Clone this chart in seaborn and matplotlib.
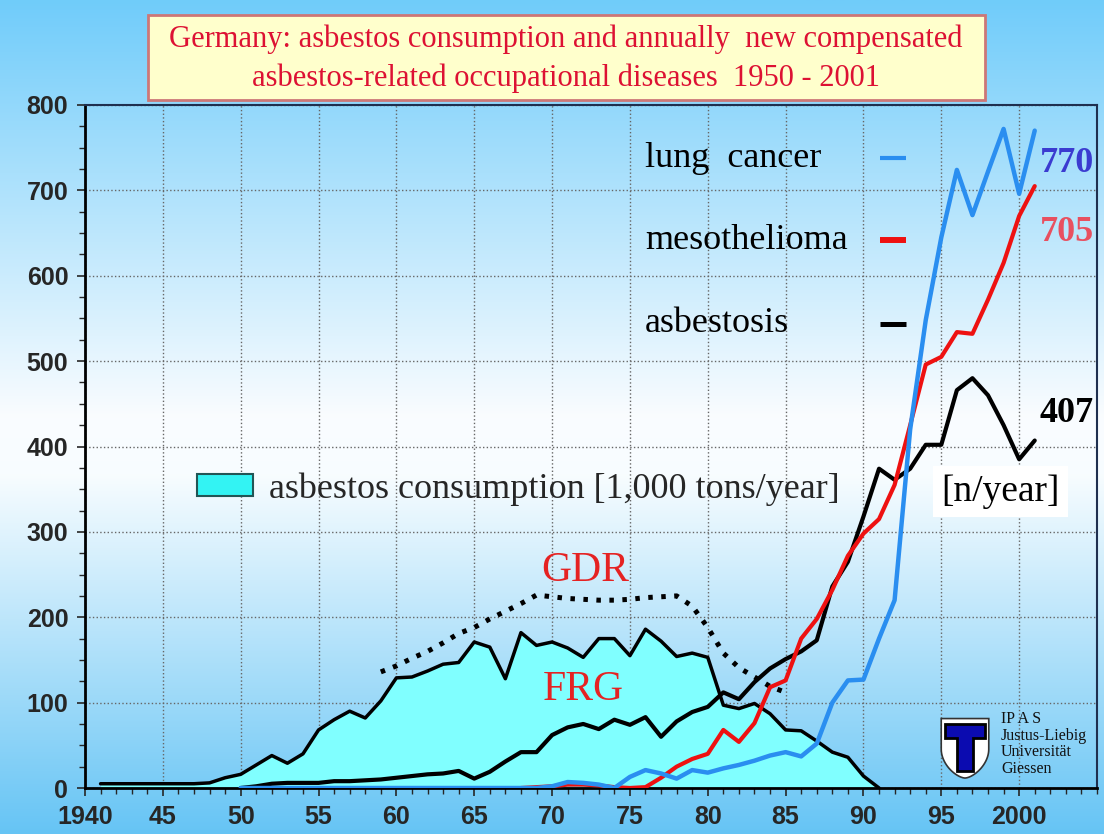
import numpy as np
import matplotlib
matplotlib.use("Agg")
import matplotlib.pyplot as plt
from matplotlib.patches import Rectangle, Polygon, Patch
import seaborn as sns

# values
frg_years = list(range(1941, 1992))
frg_consumption = [5, 5, 5, 5, 5, 5, 5, 6, 12,
                   16, 27, 38, 29, 40, 68, 80, 90, 82, 102,
                   129, 130, 137, 145, 147, 171, 165, 128, 182, 167,
                   171, 164, 153, 175, 175, 155, 186, 172, 154, 158,
                   153, 97, 93, 99, 87, 68, 67, 55, 42, 36,
                   14, 0]

gdr_years = list(range(1959, 1986))
gdr_consumption = [136, 143, 152, 160, 170, 181, 188, 198, 207, 216, 226,
                   224, 222, 221, 220, 220, 221, 223, 224, 225, 213,
                   188, 158, 141, 130, 119, 112]

disease_years = list(range(1950, 2002))
asbestosis = [0, 2, 5, 6, 6, 6, 8, 8, 9, 10,
              12, 14, 16, 17, 20, 11, 19, 31, 42, 42,
              62, 71, 75, 69, 80, 74, 83, 60, 78, 89,
              95, 112, 104, 124, 140, 151, 160, 173, 236, 265,
              318, 374, 361, 374, 402, 402, 466, 480, 460, 425,
              385, 407]
lung_cancer = [0] * 20 + [2, 7, 6, 4, 0, 13, 21, 17, 11, 21,
                          18, 23, 27, 32, 38, 42, 37, 52, 100, 126,
                          127, 175, 220, 420, 548, 645, 724, 671, 722, 772,
                          696, 770]

meso_years = list(range(1968, 2002))
mesothelioma = [0, 1, 2, 4, 4, 3, 1, 0, 1, 12,
                25, 34, 40, 68, 54, 76, 118, 126, 175, 198,
                232, 272, 298, 315, 355, 425, 496, 505, 534, 532,
                572, 615, 670, 705]

x_ticks = list(range(1940, 2001, 5))
x_labels = ["1940", "45", "50", "55", "60", "65", "70", "75", "80", "85", "90", "95", "2000"]
y_ticks = list(range(0, 801, 100))

W, H = 1104, 834
SERIF = ["Liberation Serif", "DejaVu Serif"]


def background(fig):
    """vertical blue - white - blue gradient behind everything"""
    bg = fig.add_axes([0, 0, 1, 1], zorder=-10)
    pos = [0.0, 0.50, 0.57, 1.0]
    cols = np.array([[0.44, 0.80, 0.98],
                     [0.98, 0.99, 1.00],
                     [0.97, 0.99, 1.00],
                     [0.40, 0.77, 0.96]])
    t = np.linspace(0, 1, 400)
    grad = np.stack([np.interp(t, pos, cols[:, i]) for i in range(3)], axis=-1)
    bg.imshow(grad[:, None, :], aspect="auto", extent=[0, 1, 0, 1])
    bg.axis("off")


def logo(fig):
    """small IPAS shield in the lower right corner"""
    lax = fig.add_axes([938 / W, 1 - 780 / H, 54 / W, 64 / H])
    lax.set_xlim(0, 1)
    lax.set_ylim(0, 1)
    lax.axis("off")
    a = np.linspace(0, np.pi / 2, 20)
    right = np.column_stack([0.5 + 0.44 * np.sin(a), 0.03 + 0.45 * (1 - np.cos(a)) ** 0.8])
    left = np.column_stack([0.5 - 0.44 * np.sin(a[::-1]), 0.03 + 0.45 * (1 - np.cos(a[::-1])) ** 0.8])
    shield = np.vstack([[[0.06, 0.96], [0.94, 0.96]], right[::-1], left[::-1]])
    lax.add_patch(Polygon(shield, closed=True, facecolor="white", edgecolor="#333333", lw=1.2))
    t_shape = [(0.13, 0.88), (0.87, 0.88), (0.87, 0.66), (0.64, 0.66), (0.64, 0.14),
               (0.36, 0.14), (0.36, 0.66), (0.13, 0.66)]
    lax.add_patch(Polygon(t_shape, closed=True, facecolor="#0b0bb0", edgecolor="black", lw=2))
    fig.text(1001 / W, 1 - 711 / H, "IP A S\nJustus-Liebig\nUniversität\nGiessen",
             ha="left", va="top", fontsize=11.5, family=SERIF, linespacing=1.05, color="#111111")


def main():
    sns.set_style("ticks")
    plt.rcParams["font.family"] = ["Liberation Sans", "DejaVu Sans"]

    fig = plt.figure(figsize=(W / 100, H / 100), dpi=100)
    background(fig)

    ax = fig.add_axes([85 / W, 46 / H, 1012 / W, 683 / H])
    ax.set_facecolor("none")

    # consumption area (FRG) and GDR dotted line
    ax.fill_between(frg_years, frg_consumption, color="#80ffff", lw=0, zorder=2)
    sns.lineplot(x=frg_years, y=frg_consumption, ax=ax, color="black", lw=2.5, zorder=3)
    sns.lineplot(x=gdr_years, y=gdr_consumption, ax=ax, color="black", lw=3.6,
                 linestyle=(0, (0.9, 1.7)), zorder=3)

    # diseases
    sns.lineplot(x=disease_years, y=asbestosis, ax=ax, color="black", lw=3.0, zorder=4)
    sns.lineplot(x=meso_years, y=mesothelioma, ax=ax, color="#ee1111", lw=3.0, zorder=5)
    sns.lineplot(x=disease_years, y=lung_cancer, ax=ax, color="#2a8ef0", lw=3.2, zorder=6)

    ax.set_xlim(1940, 2005)
    ax.set_ylim(0, 800)
    ax.set_xlabel("")
    ax.set_ylabel("")
    ax.set_xticks(x_ticks, x_labels)
    ax.set_xticks(range(1940, 2006), minor=True)
    ax.set_yticks(y_ticks, [str(v) for v in y_ticks])
    ax.set_yticks(range(0, 801, 25), minor=True)
    ax.tick_params(which="major", direction="out", length=6, width=1.2, labelsize=18, pad=6)
    ax.tick_params(which="minor", direction="out", length=4, width=1.0)
    for lbl in ax.get_xticklabels() + ax.get_yticklabels():
        lbl.set_fontweight("bold")
    ax.grid(True, which="major", ls=":", color="#666666", lw=1.0)
    ax.set_axisbelow(True)
    for side in ["left", "bottom"]:
        ax.spines[side].set_color("black")
        ax.spines[side].set_linewidth(2)
    for side in ["top", "right"]:
        ax.spines[side].set_color("#1f2f4f")
        ax.spines[side].set_linewidth(1.5)

    # legend of the consumption area
    ax.legend([Patch(facecolor="#33f3f3", edgecolor="#225555", lw=1.5)],
              ["asbestos consumption [1,000 tons/year]"],
              loc="center left", bbox_to_anchor=((197 - 85) / 1012, (788 - 489) / 683),
              frameon=False, prop={"family": SERIF, "size": 26},
              handlelength=1.55, handleheight=0.6, handletextpad=0.45,
              borderpad=0, borderaxespad=0)

    # legend of the disease lines: text on the left, short dash on the right
    keys = [("lung  cancer", "#2a8ef0", 0.922, 3.0),
            ("mesothelioma", "#ee1111", 0.802, 4.3),
            ("asbestosis", "black", 0.680, 3.6)]
    for name, col, yy, lw in keys:
        ax.text((645 - 85) / 1012, yy, name, transform=ax.transAxes, ha="left", va="center",
                fontsize=26, family=SERIF, color="black", zorder=7)
        ax.plot([0.786, 0.811], [yy, yy], transform=ax.transAxes, color=col, lw=lw,
                solid_capstyle="butt", zorder=7)

    # end values and other labels
    ax.text(2001.3, 732, "770", fontsize=26, fontweight="bold", family=SERIF,
            color="#3b3bd0", va="center", ha="left", zorder=7)
    ax.text(2001.3, 651, "705", fontsize=26, fontweight="bold", family=SERIF,
            color="#e85060", va="center", ha="left", zorder=7)
    ax.text(2001.3, 439, "407", fontsize=26, fontweight="bold", family=SERIF,
            color="black", va="center", ha="left", zorder=7)
    ax.text(1998.8, 347, "[n/year]", fontsize=27, family=SERIF, color="black",
            ha="center", va="center", zorder=7,
            bbox=dict(facecolor="white", edgecolor="none", pad=6))
    ax.text(1972.1, 255, "GDR", fontsize=30, family=SERIF, color="#e52222",
            ha="center", va="center", zorder=7)
    ax.text(1972.0, 115, "FRG", fontsize=30, family=SERIF, color="#e52222",
            ha="center", va="center", zorder=7)

    # title box
    fig.patches.append(Rectangle((148 / W, 1 - 100 / H), 837 / W, 85 / H,
                                 transform=fig.transFigure, facecolor="#ffffcc",
                                 edgecolor="#cc7777", lw=2))
    fig.text(566 / W, 1 - 39 / H, "Germany: asbestos consumption and annually  new compensated",
             ha="center", va="center", fontsize=22, family=SERIF, color="#dd1133")
    fig.text(566 / W, 1 - 78 / H, "asbestos-related occupational diseases  1950 - 2001",
             ha="center", va="center", fontsize=22, family=SERIF, color="#dd1133")

    logo(fig)
    fig.savefig("out.png", dpi=100)


main()
